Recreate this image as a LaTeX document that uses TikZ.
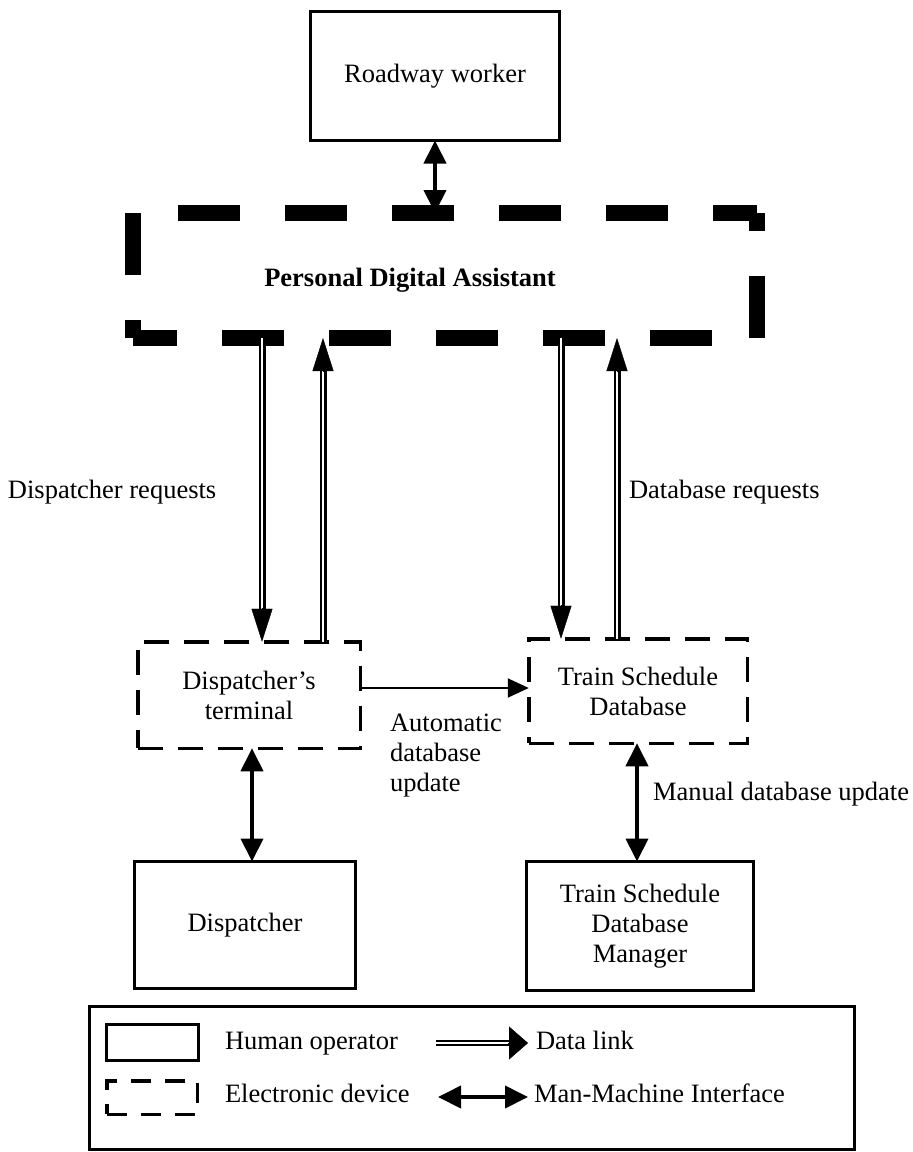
\documentclass[tikz,border=0pt]{standalone}
\usepackage{fontspec}
\setmainfont{Liberation Serif}
\usetikzlibrary{arrows.meta}
\begin{document}
\begin{tikzpicture}[x=1pt,y=-1pt,
  every node/.style={font=\fontsize{26.5}{30}\selectfont, inner sep=0pt, outer sep=0pt},
  human/.style={draw, line width=3pt, align=center},
  device/.style={draw, line width=3.5pt, dash pattern=on 25pt off 15pt, align=center},
  pdaframe/.style={line width=16pt, dash pattern=on 62pt off 45pt},
  mmi/.style={line width=4pt, {Triangle[width=22pt,length=23pt]}-{Triangle[width=22pt,length=23pt]}},
  datalink/.style={double=white, double distance=2.6pt, line width=2.2pt, shorten >=31pt},
  dlhead/.style={-{Triangle[width=21pt,length=33pt]}, line width=0.4pt},
  thinarrow/.style={line width=2pt, -{Triangle[width=19pt,length=21pt]}},
  lbl/.style={anchor=west, text height=0.68em, text depth=0.22em},
  blocklbl/.style={anchor=north west, align=left}
]
\useasboundingbox (0,0) rectangle (913,1152);

% operators and devices
\node[human, minimum width=249pt, minimum height=129pt] (rw) at (435,76) {Roadway worker};
\node[minimum width=624pt, minimum height=125pt] (pda) at (445,275.5) {};
\node[font=\fontsize{26.5}{30}\selectfont\bfseries] (pdalbl) at (410,280) {Personal Digital Assistant};
\node[device, minimum width=222.5pt, minimum height=106.5pt] (term) at (249,695) {Dispatcher’s\\terminal};
\node[device, minimum width=218.5pt, minimum height=104.5pt] (tsd) at (638,691) {Train Schedule\\Database};
\node[human, minimum width=221pt, minimum height=127pt] (disp) at (245,925) {Dispatcher};
\node[human, minimum width=227pt, minimum height=129pt] (mgr) at (640,926) {Train Schedule\\Database\\Manager};

% heavy dashed frame of the PDA, one side at a time
\draw[pdaframe, dash phase=44pt] (pda.south west) -- (pda.north west);
\draw[pdaframe, dash phase=62pt] (pda.north west) -- (pda.north east);
\draw[pdaframe, dash phase=44pt] (pda.north east) -- (pda.south east);
\draw[pdaframe, dash phase=62pt] (pda.south east) -- (pda.south west);

% man-machine interfaces
\draw[mmi] (rw.south) -- (rw.south |- pda.north);
\coordinate (xT) at (252,0);
\draw[mmi] (term.south -| xT) -- (disp.north -| xT);
\coordinate (xM) at (637,0);
\draw[mmi] (tsd.south -| xM) -- (mgr.north -| xM);

% data links
\coordinate (xA) at (262,0);
\coordinate (xB) at (323,0);
\coordinate (xC) at (561,0);
\coordinate (xD) at (617,0);
\coordinate (aEnd) at (term.north -| xA);
\coordinate (bEnd) at (pda.south -| xB);
\coordinate (cEnd) at (tsd.north -| xC);
\coordinate (dEnd) at (pda.south -| xD);
\draw[datalink] (pda.south -| xA) -- (aEnd);
\draw[dlhead] ([yshift=34pt]aEnd) -- (aEnd);
\draw[datalink] (term.north -| xB) -- (bEnd);
\draw[dlhead] ([yshift=-34pt]bEnd) -- (bEnd);
\draw[datalink] (pda.south -| xC) -- (cEnd);
\draw[dlhead] ([yshift=34pt]cEnd) -- (cEnd);
\draw[datalink] (tsd.north -| xD) -- (dEnd);
\draw[dlhead] ([yshift=-34pt]dEnd) -- (dEnd);

% automatic update
\coordinate (yAuto) at (0,688);
\draw[thinarrow] (term.east |- yAuto) -- (tsd.west |- yAuto);

% connector labels
\node[lbl] (ldr) at (8,496) {Dispatcher requests};
\node[lbl] (ldbr) at (629,496) {Database requests};
\node[blocklbl] (lauto) at (390,714) {Automatic\\database\\update};
\node[lbl] (lman) at (653,798) {Manual database update};

% legend
\node[human, minimum width=765pt, minimum height=143pt] (legend) at (472,1078) {};
\node[human, minimum width=92pt, minimum height=36pt] (lhum) at (152.5,1042.5) {};
\node[device, minimum width=90.5pt, minimum height=33.5pt, dash pattern=on 20pt off 14pt] (ldev) at (152,1097.5) {};
\node[lbl] (thum) at (225,1047) {Human operator};
\node[lbl] (tdev) at (225,1100) {Electronic device};
\node[lbl] (tdl) at (536,1047) {Data link};
\node[lbl] (tmmi) at (534,1100) {Man-Machine Interface};
\coordinate (ldlA) at (436,1043);
\coordinate (ldlB) at (528,1043);
\draw[datalink, line width=1.6pt, double distance=2pt, shorten >=17pt] (ldlA) -- (ldlB);
\draw[-{Triangle[width=33pt,length=19pt]}, line width=0.4pt] ([xshift=-20pt]ldlB) -- (ldlB);
\coordinate (lmA) at (438,1097);
\coordinate (lmB) at (528,1097);
\draw[mmi] (lmA) -- (lmB);
\end{tikzpicture}
\end{document}
